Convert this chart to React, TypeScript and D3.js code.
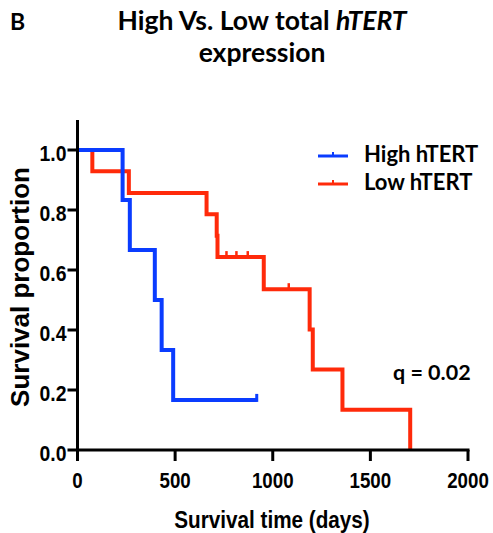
import React from "react";
import * as d3 from "d3";

const highStepTimes = [0, 231, 268, 396, 431, 490];
const highStepSurv = [1, 0.833, 0.667, 0.5, 0.333, 0.167];
const highEndTime = 918;
const highCensorTimes = [918];
const highCensorSurv = [0.167];

const lowStepTimes = [0, 76, 263, 661, 713, 717, 954, 1189, 1205, 1357, 1704];
const lowStepSurv = [1, 0.929, 0.857, 0.786, 0.714, 0.643, 0.536, 0.402, 0.268, 0.134, 0];
const lowCensorTimes = [763, 814, 872, 1082];
const lowCensorSurv = [0.643, 0.643, 0.643, 0.536];

const xTicks = [0, 500, 1000, 1500, 2000];
const yTicks = [0, 0.2, 0.4, 0.6, 0.8, 1.0];
const seriesNames = ["High hTERT", "Low hTERT"];

const BLUE = "#0a3cff";
const RED = "#ff2a0a";
const AXIS_FONT = "'Liberation Sans', Arial, sans-serif";
const TITLE_FONT = "Lato, 'Open Sans', sans-serif";

export default function App() {
  const x = d3.scaleLinear().domain([0, 2000]).range([77.5, 468]);
  const y = d3.scaleLinear().domain([0, 1]).range([450, 150]);
  const line = d3
    .line<[number, number]>()
    .x((d) => x(d[0]))
    .y((d) => y(d[1]))
    .curve(d3.curveStepAfter);

  const highPts: [number, number][] = highStepTimes.map((t, i) => [t, highStepSurv[i]]);
  highPts.push([highEndTime, highStepSurv[highStepSurv.length - 1]]);
  const lowPts: [number, number][] = lowStepTimes.map((t, i) => [t, lowStepSurv[i]]);

  return (
    <>
      <style>{`body{margin:0}`}</style>
      <svg width={493} height={533} style={{ display: "block" }}>
        <rect width={493} height={533} fill="#fff" />
        {/* titles */}
        <text x={10} y={29.5} fontFamily={TITLE_FONT} fontWeight={700} fontSize={23} fill="#000">
          B
        </text>
        <text x={262} y={29.5} textAnchor="middle" fontFamily={TITLE_FONT} fontWeight={700} fontSize={26.5} fill="#000">
          High Vs. Low total <tspan fontStyle="italic">hTERT</tspan>
        </text>
        <text x={262} y={62} textAnchor="middle" fontFamily={TITLE_FONT} fontWeight={700} fontSize={26.5} fill="#000">
          expression
        </text>

        {/* curves */}
        <path d={line(lowPts) || ""} fill="none" stroke={RED} strokeWidth={4} />
        {lowCensorTimes.map((t, i) => (
          <line key={"lc" + i} x1={x(t)} x2={x(t)} y1={y(lowCensorSurv[i])} y2={y(lowCensorSurv[i]) - 6} stroke={RED} strokeWidth={2.5} />
        ))}
        <path d={line(highPts) || ""} fill="none" stroke={BLUE} strokeWidth={4} />
        {highCensorTimes.map((t, i) => (
          <line key={"hc" + i} x1={x(t)} x2={x(t)} y1={y(highCensorSurv[i]) + 2} y2={y(highCensorSurv[i]) - 6} stroke={BLUE} strokeWidth={3} />
        ))}

        {/* axes */}
        <line x1={x(0)} x2={x(0)} y1={120} y2={451.5} stroke="#000" strokeWidth={3} />
        <line x1={x(0) - 1.5} x2={x(2000) + 1.5} y1={y(0)} y2={y(0)} stroke="#000" strokeWidth={3} />
        {yTicks.map((v) => (
          <g key={"yt" + v}>
            <line x1={x(0) - 10} x2={x(0)} y1={y(v)} y2={y(v)} stroke="#000" strokeWidth={3} />
            <text
              transform={`translate(66.5,${y(v) + 11}) scale(0.88,1)`}
              textAnchor="end"
              fontFamily={AXIS_FONT}
              fontWeight={700}
              fontSize={22}
              fill="#000"
            >
              {v.toFixed(1)}
            </text>
          </g>
        ))}
        {xTicks.map((v) => (
          <g key={"xt" + v}>
            <line x1={x(v)} x2={x(v)} y1={y(0)} y2={y(0) + 11} stroke="#000" strokeWidth={3} />
            <text
              transform={`translate(${x(v)},487.5) scale(0.85,1)`}
              textAnchor="middle"
              fontFamily={AXIS_FONT}
              fontWeight={700}
              fontSize={22}
              fill="#000"
            >
              {v}
            </text>
          </g>
        ))}
        <text
          transform="translate(272,527.5) scale(0.9,1)"
          textAnchor="middle"
          fontFamily={AXIS_FONT}
          fontWeight={700}
          fontSize={23}
          fill="#000"
        >
          Survival time (days)
        </text>
        <text
          transform="translate(29,287) rotate(-90)"
          textAnchor="middle"
          fontFamily={AXIS_FONT}
          fontWeight={700}
          fontSize={26}
          fill="#000"
        >
          Survival proportion
        </text>

        {/* legend */}
        {seriesNames.map((name, i) => {
          const ly = 156 + i * 28;
          const c = i === 0 ? BLUE : RED;
          return (
            <g key={name}>
              <line x1={318} x2={348} y1={ly} y2={ly} stroke={c} strokeWidth={3} />
              <line x1={333} x2={333} y1={ly} y2={ly - 4} stroke={c} strokeWidth={2} />
              <text x={364} y={ly + 6} fontFamily={TITLE_FONT} fontWeight={700} fontSize={22} fill="#000">
                {name}
              </text>
            </g>
          );
        })}
        <text x={393} y={380} fontFamily={TITLE_FONT} fontWeight={700} fontSize={21.5} fill="#000">
          q = 0.02
        </text>
      </svg>
    </>
  );
}
